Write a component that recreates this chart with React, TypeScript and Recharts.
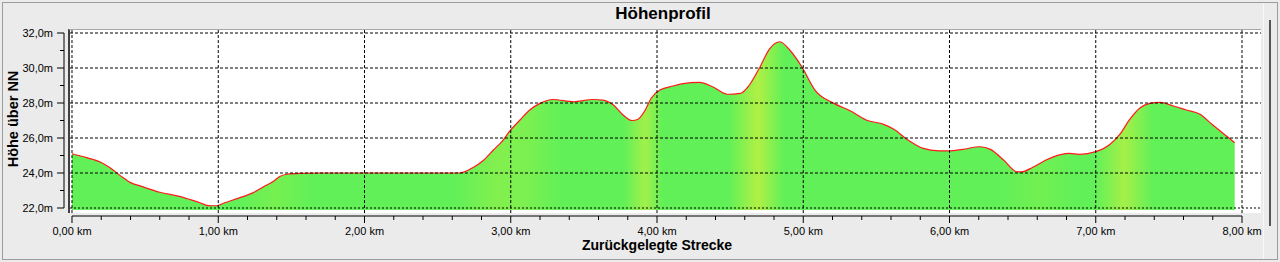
import React from 'react';
import { ComposedChart, Area, XAxis, YAxis, ReferenceLine } from 'recharts';

// ---- data ----
const distanceKm = [
  0.0, 0.1, 0.2, 0.26, 0.33, 0.4, 0.47, 0.6, 0.74, 0.82, 0.875, 0.93, 0.99, 1.035, 1.1, 1.17, 1.24, 1.31,
  1.38, 1.42, 1.47, 1.56, 1.7, 2.0, 2.4, 2.65, 2.74, 2.81, 2.88, 2.95, 2.99, 3.06, 3.13, 3.2,
  3.29, 3.43, 3.56, 3.63, 3.7, 3.77, 3.83, 3.87, 3.92, 3.96, 4.02, 4.11, 4.23, 4.29, 4.38, 4.48,
  4.57, 4.62, 4.7, 4.77, 4.84, 4.91, 4.99, 5.08, 5.21, 5.32, 5.43, 5.55, 5.62, 5.71, 5.82, 5.93,
  6.0, 6.09, 6.21, 6.28, 6.37, 6.46, 6.49, 6.57, 6.66, 6.76, 6.82, 6.89, 7.0, 7.1, 7.17, 7.23,
  7.3, 7.37, 7.44, 7.53, 7.62, 7.71, 7.8, 7.9, 7.95,
];
const heightM = [
  25.1, 24.88, 24.6, 24.3, 23.85, 23.45, 23.25, 22.9, 22.65, 22.45, 22.3, 22.14, 22.13, 22.27, 22.46, 22.65, 22.88, 23.22,
  23.54, 23.8, 23.93, 23.98, 24.0, 24.0, 24.0, 24.0, 24.3, 24.7, 25.3, 25.9, 26.36, 27.0, 27.6, 27.98,
  28.2, 28.07, 28.2, 28.17, 27.9, 27.3, 27.0, 27.07, 27.6, 28.27, 28.74, 28.97, 29.16, 29.18, 28.93, 28.5,
  28.55, 28.9, 30.0, 31.1, 31.5, 31.0, 30.07, 28.74, 27.98, 27.56, 27.03, 26.78, 26.5, 25.92, 25.41, 25.27,
  25.26, 25.35, 25.5, 25.35, 24.74, 24.07, 24.06, 24.33, 24.74, 25.05, 25.12, 25.07, 25.22, 25.66, 26.27, 27.03,
  27.7, 27.98, 28.04, 27.83, 27.6, 27.37, 26.74, 26.07, 25.73,
];

const xTicks = [
  0, 0.2, 0.4, 0.6, 0.8, 1, 1.2, 1.4, 1.6, 1.8, 2, 2.2, 2.4, 2.6, 2.8, 3, 3.2, 3.4, 3.6, 3.8, 4,
  4.2, 4.4, 4.6, 4.8, 5, 5.2, 5.4, 5.6, 5.8, 6, 6.2, 6.4, 6.6, 6.8, 7, 7.2, 7.4, 7.6, 7.8, 8,
];
const yTicks = [22, 23, 24, 25, 26, 27, 28, 29, 30, 31, 32];
const xGridKm = [0, 1, 2, 3, 4, 5, 6, 7, 8];
const yGridM = [22, 24, 26, 28, 30, 32];

// colour stops of the fill (slope shading), offsets along the profile
const fillStopOffsets = [0, 0.145, 0.175, 0.205, 0.33, 0.365, 0.39, 0.42, 0.475, 0.493, 0.508, 0.565, 0.59, 0.612, 0.8, 0.833, 0.862, 0.88, 0.905, 0.93, 1];
const fillStopColors = [
  '#62f058', '#62f058', '#76f050', '#62f058', '#62f058', '#82f04e', '#7cf050', '#62f058', '#62f058', '#a2f04a', '#62f058',
  '#62f058', '#b0f044', '#62f058', '#62f058', '#72f052', '#62f058', '#62f058', '#a4f048', '#62f058', '#62f058',
];

const data = distanceKm.map((d, i) => ({ d, h: heightM[i] }));

// axis domains
const X_MIN = -0.0547;
const X_MAX = 8.1299;
const Y_MIN = 21.543;
const Y_MAX = 32.229;
const X_PLOT_LEFT = -0.0137;
const Y_PLOT_BOTTOM = 21.71;
const BASE = 21.88;

const FONT = '"Liberation Sans", Arial, sans-serif';

const fmtKm = (v: number) => v.toFixed(2).replace('.', ',') + ' km';
const fmtM = (v: number) => v.toFixed(1).replace('.', ',') + 'm';

const XTick = (props: any) => {
  const { x, y, payload } = props;
  const v = payload.value as number;
  const major = Math.abs(v - Math.round(v)) < 1e-6;
  return (
    <g>
      <line x1={x} x2={x} y1={y} y2={y + (major ? 7 : 4)} stroke="#000" strokeWidth={1} />
      {major && (
        <text x={x} y={y + 19} textAnchor="middle" fontFamily={FONT} fontSize={11} fill="#000">
          {fmtKm(v)}
        </text>
      )}
    </g>
  );
};

const YTick = (props: any) => {
  const { x, y, payload } = props;
  const v = payload.value as number;
  const major = Math.round(v) % 2 === 0;
  return (
    <g>
      <line x1={x - (major ? 7 : 4)} x2={x} y1={y} y2={y} stroke="#000" strokeWidth={1} />
      {major && (
        <text x={x - 11} y={y + 4} textAnchor="end" fontFamily={FONT} fontSize={11} fill="#000">
          {fmtM(v)}
        </text>
      )}
    </g>
  );
};

export default function App() {
  return (
    <div style={{ position: 'fixed', left: 0, top: 0, width: 1280, height: 262, background: '#ebebeb', overflow: 'hidden' }}>
      {/* frame */}
      <div style={{ position: 'absolute', left: 2, top: 2, width: 1274, height: 256, border: '1px solid #9c9c9c' }} />
      <div style={{ position: 'absolute', left: 1263, top: 3, width: 1, height: 256, background: '#f8f8f8' }} />
      <div style={{ position: 'absolute', left: 1269, top: 20, width: 2, height: 206, background: '#555' }} />
      {/* plot background */}
      <div style={{ position: 'absolute', left: 68, top: 29, width: 1193, height: 184, background: '#fff', borderLeft: '2px solid #404040', borderTop: '1px solid #a8a8a8', boxSizing: 'border-box' }} />
      <div style={{ position: 'absolute', left: 0, top: 0 }}>
        <ComposedChart width={1280} height={262} data={data} margin={{ top: 29, right: 19, bottom: 16, left: 0 }}>
          <defs>
            <linearGradient id="slopeFill" x1="0" y1="0" x2="1" y2="0">
              {fillStopOffsets.map((o, i) => (
                <stop key={i} offset={o} stopColor={fillStopColors[i]} />
              ))}
            </linearGradient>
          </defs>
          <XAxis
            dataKey="d"
            type="number"
            domain={[X_MIN, X_MAX]}
            allowDataOverflow
            ticks={xTicks}
            interval={0}
            tick={<XTick />}
            tickLine={false}
            axisLine={false}
            tickSize={0}
            tickMargin={0}
            height={30}
          />
          <YAxis
            type="number"
            domain={[Y_MIN, Y_MAX]}
            allowDataOverflow
            ticks={yTicks}
            interval={0}
            tick={<YTick />}
            tickLine={false}
            axisLine={false}
            tickSize={0}
            tickMargin={0}
            width={64}
          />
          <Area
            dataKey="h"
            type="monotone"
            baseValue={BASE}
            stroke="#ff1a1a"
            strokeWidth={1.2}
            fill="url(#slopeFill)"
            fillOpacity={1}
            dot={false}
            activeDot={false}
            isAnimationActive={false}
          />
          {xGridKm.map((k) => (
            <ReferenceLine
              key={'vx' + k}
              segment={[{ x: k, y: Y_PLOT_BOTTOM }, { x: k, y: Y_MAX }]}
              stroke="#000"
              strokeDasharray="3 2"
              ifOverflow="visible"
            />
          ))}
          {yGridM.map((m) => (
            <ReferenceLine
              key={'hy' + m}
              segment={[{ x: X_PLOT_LEFT, y: m }, { x: X_MAX, y: m }]}
              stroke="#000"
              strokeDasharray={m === 22 ? '2 2' : '3 2'}
              ifOverflow="visible"
            />
          ))}
          <ReferenceLine segment={[{ x: 0, y: Y_MIN }, { x: 8, y: Y_MIN }]} stroke="#000" ifOverflow="visible" />
          <ReferenceLine segment={[{ x: X_MIN, y: 22 }, { x: X_MIN, y: 32 }]} stroke="#000" ifOverflow="visible" />
        </ComposedChart>
      </div>
      <svg width={1280} height={262} style={{ position: 'absolute', left: 0, top: 0, pointerEvents: 'none' }}>
        <text x={663} y={19} textAnchor="middle" fontFamily={FONT} fontSize={17} fontWeight="bold" fill="#000">Höhenprofil</text>
        <text x={657} y={250} textAnchor="middle" fontFamily={FONT} fontSize={14} fontWeight="bold" fill="#000">Zurückgelegte Strecke</text>
        <text transform="translate(18,119) rotate(-90)" textAnchor="middle" fontFamily={FONT} fontSize={14.5} fontWeight="bold" fill="#000">Höhe über NN</text>
      </svg>
    </div>
  );
}
